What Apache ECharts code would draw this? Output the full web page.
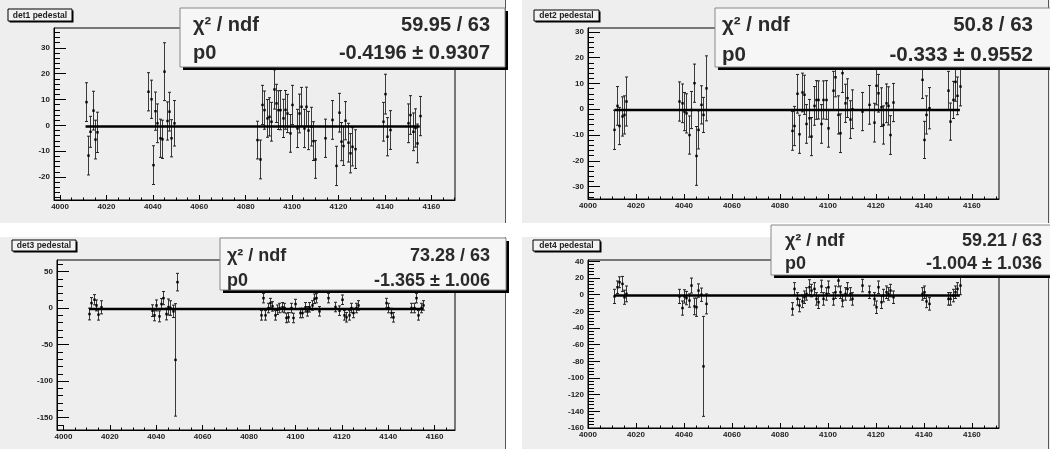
<!DOCTYPE html>
<html><head><meta charset="utf-8">
<script src="https://cdn.jsdelivr.net/npm/echarts@6/dist/echarts.min.js"></script>
<style>html,body{margin:0;padding:0;background:#fff}#c{width:1050px;height:449px}</style>
</head><body><div id="c"></div>
<script>
// ---- data ----
const runs = [4011,4012,4013,4014,4015,4016,
  4038,4039,4040,4041,4042,4043,4044,4045,4046,4047,4048,4049,
  4085,4086,4087,4088,4089,4090,4091,4092,4093,4094,4095,4096,4097,4098,4099,4100,4102,4103,4104,4105,4106,4107,4108,4109,4110,
  4114,4117,4119,4120,4121,4122,4123,4124,4125,4126,4127,
  4139,4140,4141,4142,
  4150,4151,4152,4153,4154,4155];

const det1 = [9.0,-11.7,-2.5,5.7,-5.5,-2.7,
  13.0,10.1,-15.4,5.5,0.8,-5.0,-5.4,20.8,1.7,5.3,-5.0,0.8,
  -5.7,-13.2,7.9,5.9,2.7,3.3,1.4,13.9,8.5,5.9,5.9,2.7,6.0,4.6,-3.1,7.9,-1.2,4.6,7.2,-1.2,7.2,-2.0,-0.5,-6.1,-13.2,
  -5.0,2.1,-15.7,4.9,-6.3,-8.0,1.8,-6.7,-10.8,-8.3,-9.2,
  1.4,12.1,-4.4,-1.8,
  0.8,4.0,-2.5,-1.0,-7.0,3.6];
const det1Err = [7.5,7.5,6.0,7.5,7.5,7.8,
  7.4,7.4,7.5,7.4,7.5,7.4,7.4,11.2,7.4,7.5,7.2,8.8,
  7.3,7.5,7.6,7.4,7.3,7.4,7.5,7.6,7.4,7.5,7.6,7.4,7.5,7.4,7.3,7.6,7.4,7.5,7.5,7.4,7.6,7.4,7.5,7.5,7.3,
  7.4,7.5,7.6,7.5,7.4,7.5,7.4,7.5,7.6,7.4,7.5,
  7.5,7.7,7.4,7.5,
  7.5,7.5,7.3,7.4,7.5,7.6];

const det2 = [-8.0,1.3,-6.5,-2.8,-2.2,3.0,
  3.0,2.3,-0.9,-1.6,-10.0,-0.3,10.1,-18.1,-8.0,1.7,-2.2,8.1,
  -8.4,-6.5,6.0,-9.7,6.5,5.6,-5.7,-3.5,-10.6,1.3,3.6,3.6,-5.7,3.6,3.6,-7.4,7.2,12.4,-2.2,-9.3,14.0,2.3,4.3,-4.0,0.0,
  -0.9,1.7,-5.2,9.1,6.2,0.8,-6.1,2.3,1.3,-10.0,2.6,
  11.4,-11.9,-2.2,0.4,
  7.2,-4.8,3.6,10.6,5.2,8.8];
const det2Err = [7.6,7.5,7.2,7.6,7.4,9.5,
  7.6,7.5,7.4,7.6,7.4,7.2,7.4,11.4,7.4,7.4,6.8,12.6,
  7.5,7.6,7.5,7.4,7.5,7.6,7.5,7.3,7.4,7.5,7.5,7.4,7.5,7.4,7.5,7.3,7.5,7.6,7.4,7.5,7.5,7.4,7.5,7.3,7.5,
  7.4,7.5,7.5,7.4,7.3,7.5,7.4,7.5,7.4,7.5,7.4,
  7.2,7.2,7.4,8.0,
  7.5,7.2,7.2,7.5,7.3,7.5];

const det3 = [-8.2,6.8,11.4,3.6,-9.0,1.0,
  -3.6,-10.0,3.6,-11.4,5.5,13.6,-8.2,1.4,0.0,-4.5,-71.0,35.5,
  -10.0,13.6,-10.0,0.0,6.8,2.3,-10.0,-2.3,0.0,1.0,0.0,-13.6,-12.7,0.0,-13.6,5.5,-6.8,-6.8,1.0,-4.5,1.0,3.6,12.7,13.6,-4.5,
  13.6,1.4,-3.6,11.4,-10.0,-12.7,-10.0,0.0,-6.8,0.0,3.6,
  6.8,0.0,-6.8,-12.7,
  0.0,0.0,13.6,-10.0,0.0,3.6];
const det3Err = [8.0,7.5,7.0,7.5,7.5,9.0,
  8.0,7.5,7.5,7.5,7.5,9.0,8.0,11.0,10.0,8.5,77.0,12.0,
  6.5,6.5,6.5,6.5,6.5,6.5,6.5,6.5,6.5,6.5,6.5,6.5,6.5,6.5,6.5,6.5,6.5,6.5,6.5,6.5,6.5,6.5,6.5,6.5,6.5,
  6.5,6.5,6.5,6.5,6.5,6.5,6.5,6.5,6.5,6.5,6.5,
  6.5,6.5,6.5,6.5,
  6.5,6.5,6.5,6.5,6.5,6.5];

const det4 = [-2,9,15,13,-3,1,
  -2,-16,-2,-4,-7,11,-14,-15,5,0,-86,-11,
  -17,7,-5,-13,-8,-3,1,9,5,7,-5,-9,10,-5,1,9,-5,3,17,3,-7,1,7,1,-5,
  11,3,-5,-15,9,-9,-1,3,1,5,-3,
  1,3,-8,-11,
  -5,-5,-1,3,7,11];
const det4Err = [8.5,7.5,6.5,9.0,8.5,9.5,
  8.5,8.5,8.0,8.0,8.0,9.0,10.0,11.0,8.0,8.0,60.0,12.0,
  7.5,7.5,7.5,7.5,7.5,7.5,7.5,9.0,7.5,7.5,7.5,7.5,7.5,7.5,7.5,7.5,7.5,7.5,7.5,7.5,7.5,7.5,7.5,7.5,7.5,
  7.5,7.5,7.5,7.5,7.5,7.5,7.5,7.5,7.5,7.5,7.5,
  7.5,7.5,7.5,7.5,
  7.5,7.5,7.5,7.5,7.5,11.0];

const titles = ['det1 pedestal','det2 pedestal','det3 pedestal','det4 pedestal'];
const chi2 = [59.95, 50.8, 73.28, 59.21];
const ndf = [63, 63, 63, 63];
const p0 = [-0.4196, -0.333, -1.365, -1.004];
const p0Err = [0.9307, 0.9552, 1.006, 1.036];

const xTicks = [4000,4020,4040,4060,4080,4100,4120,4140,4160];
const yTicks1 = [-20,-10,0,10,20,30];
const yTicks2 = [-30,-20,-10,0,10,20,30];
const yTicks3 = [-150,-100,-50,0,50];
const yTicks4 = [-160,-140,-120,-100,-80,-60,-40,-20,0,20,40];

// ---- layout ----
const values = [det1, det2, det3, det4];
const errors = [det1Err, det2Err, det3Err, det4Err];
const yTicks = [yTicks1, yTicks2, yTicks3, yTicks4];
const layout = [
  {grid:[54,28,401,172], x:[3997.4,4170.2], y:[-28.9,37.7], yMinor:2, pad:[0,0,505,223], border:505, title:[8,9,64,12], box:[180,8,325,59], fs:20, rows:[25,53], tx:193, rx:490},
  {grid:[588,28,411,171], x:[4000,4171.3], y:[-34.8,31.5], yMinor:2, pad:[522,0,528,223], border:1048, title:[534,10,65,11], box:[715,8,340,59], fs:20.5, rows:[25,55], tx:722, rx:1033},
  {grid:[57,260,398,170], x:[3997.2,4168.8], y:[-167,65.8], yMinor:10, pad:[0,237,505,212], border:505, title:[12,240,64,11], box:[220,238,286,52], fs:18, rows:[255.7,281], tx:227, rx:490},
  {grid:[588,260,411,168], x:[4000,4171.3], y:[-160,41.7], yMinor:4, pad:[522,237,528,212], border:1048, title:[533,240,67,11], box:[771,225,282,50], fs:18, rows:[241,264], tx:785, rx:1042}
];

const FONT = '"Liberation Sans", Arial, sans-serif';
const NARROW = '"Liberation Sans Narrow", "Liberation Sans", sans-serif';

function minorList(lo, hi, step) {
  const out = [];
  for (let v = Math.ceil(lo / step) * step; v <= hi; v += step) out.push(+v.toFixed(6));
  return out;
}

function errRender(params, api) {
  const x = api.value(0), y = api.value(1), e = api.value(2);
  const c = api.coord([x, y]);
  const t = api.coord([x, y + e]);
  const b = api.coord([x, y - e]);
  const cx = Math.round(c[0]) + 0.5;
  const cw = 1.5;
  return { type: 'group', children: [
    {type:'line', shape:{x1:cx, y1:t[1], x2:cx, y2:b[1]}, style:{stroke:'#3a3a3a', lineWidth:1}},
    {type:'line', shape:{x1:cx-cw, y1:t[1], x2:cx+cw, y2:t[1]}, style:{stroke:'#222', lineWidth:1}},
    {type:'line', shape:{x1:cx-cw, y1:b[1], x2:cx+cw, y2:b[1]}, style:{stroke:'#222', lineWidth:1}},
    {type:'rect', shape:{x:cx-1.2, y:c[1]-1.2, width:2.4, height:2.4}, style:{fill:'#000'}}
  ]};
}

const grids = [], xAxes = [], yAxes = [], series = [], graphics = [];
layout.forEach((L, i) => {
  grids.push({left:L.grid[0], top:L.grid[1], width:L.grid[2], height:L.grid[3], show:true,
    borderColor:'#000', borderWidth:1, backgroundColor:'transparent', containLabel:false});
  const lab = {fontSize:8, color:'#222', fontFamily:NARROW, fontWeight:'bold'};
  xAxes.push({gridIndex:i, type:'value', min:L.x[0], max:L.x[1], position:'bottom',
    axisLine:{show:true, onZero:false, lineStyle:{color:'#000', width:1}},
    axisTick:{show:true, inside:true, length:5, customValues:xTicks, lineStyle:{color:'#000'}},
    axisLabel:Object.assign({customValues:xTicks, margin:3, formatter:v=>String(v)}, lab),
    splitLine:{show:false}});
  xAxes.push({gridIndex:i, type:'value', min:L.x[0], max:L.x[1], position:'bottom',
    axisLine:{show:false, onZero:false},
    axisTick:{show:true, inside:true, length:2.5, customValues:minorList(L.x[0], L.x[1], 5), lineStyle:{color:'#000'}},
    axisLabel:{show:false}, splitLine:{show:false}});
  const yw = L.grid[2];
  yAxes.push({gridIndex:i, type:'value', min:L.y[0], max:L.y[1], position:'left',
    axisLine:{show:true, onZero:false, lineStyle:{color:'#000', width:1}},
    axisTick:{show:true, inside:true, length:Math.round(yw*0.03), customValues:yTicks[i], lineStyle:{color:'#000'}},
    axisLabel:Object.assign({customValues:yTicks[i], margin:4, formatter:v=>String(v)}, lab),
    splitLine:{show:false}});
  yAxes.push({gridIndex:i, type:'value', min:L.y[0], max:L.y[1], position:'left',
    axisLine:{show:false, onZero:false},
    axisTick:{show:true, inside:true, length:Math.round(yw*0.015), customValues:minorList(L.y[0], L.y[1], L.yMinor), lineStyle:{color:'#000'}},
    axisLabel:{show:false}, splitLine:{show:false}});

  series.push({type:'custom', xAxisIndex:2*i, yAxisIndex:2*i, clip:true, renderItem:errRender,
    data: runs.map((r, k) => [r, values[i][k], errors[i][k]]), z:3, silent:true});
  series.push({type:'line', xAxisIndex:2*i, yAxisIndex:2*i, symbol:'none', silent:true, z:4,
    lineStyle:{color:'#000', width:2.5},
    data:[[runs[0], p0[i]], [runs[runs.length-1], p0[i]]]});

  // pad
  graphics.push({type:'rect', z:-10, silent:true, shape:{x:L.pad[0], y:L.pad[1], width:L.pad[2], height:L.pad[3]}, style:{fill:'#eeeeee'}});
  graphics.push({type:'line', z:-9, silent:true, shape:{x1:L.border+0.5, y1:L.pad[1], x2:L.border+0.5, y2:L.pad[1]+L.pad[3]}, style:{stroke:'#555', lineWidth:1}});
  // title box
  const T = L.title;
  graphics.push({type:'rect', z:50, silent:true, shape:{x:T[0]+1.5, y:T[1]+1.5, width:T[2], height:T[3]}, style:{fill:'#000'}});
  graphics.push({type:'rect', z:51, silent:true, shape:{x:T[0], y:T[1], width:T[2], height:T[3]}, style:{fill:'#f2f2f2', stroke:'#000', lineWidth:1}});
  graphics.push({type:'text', z:52, silent:true, style:{text:titles[i], x:T[0]+T[2]/2, y:T[1]+T[3]/2+0.5,
    align:'center', verticalAlign:'middle', textAlign:'center', textVerticalAlign:'middle',
    font:'bold 8.5px ' + NARROW, fontSize:8.5, fontFamily:NARROW, fontWeight:'bold', fill:'#222'}});
  // stats box
  const B = L.box;
  graphics.push({type:'rect', z:100, silent:true, shape:{x:B[0]+3, y:B[1]+3, width:B[2], height:B[3]}, style:{fill:'#000'}});
  graphics.push({type:'rect', z:101, silent:true, shape:{x:B[0], y:B[1], width:B[2], height:B[3]}, style:{fill:'#f6f6f6', stroke:'#888', lineWidth:1}});
  const f = 'bold ' + L.fs + 'px ' + FONT;
  const txt = (s, x, y, al) => graphics.push({type:'text', z:102, silent:true, style:{text:s, x:x, y:y,
    align:al, verticalAlign:'middle', textAlign:al, textVerticalAlign:'middle',
    font:f, fontSize:L.fs, fontFamily:FONT, fontWeight:'bold', fill:'#2a2a2a'}});
  txt('\u03c7\u00b2 / ndf', L.tx, L.rows[0], 'left');
  txt('p0', L.tx, L.rows[1], 'left');
  txt(chi2[i] + ' / ' + ndf[i], L.rx, L.rows[0], 'right');
  txt(p0[i] + ' \u00b1 ' + p0Err[i], L.rx, L.rows[1], 'right');
});

const chart = echarts.init(document.getElementById('c'), null, {renderer:'canvas', width:1050, height:449});
chart.setOption({
  animation:false,
  backgroundColor:'#ffffff',
  grid:grids, xAxis:xAxes, yAxis:yAxes, series:series,
  graphic:{elements:graphics}
});
</script></body></html>
